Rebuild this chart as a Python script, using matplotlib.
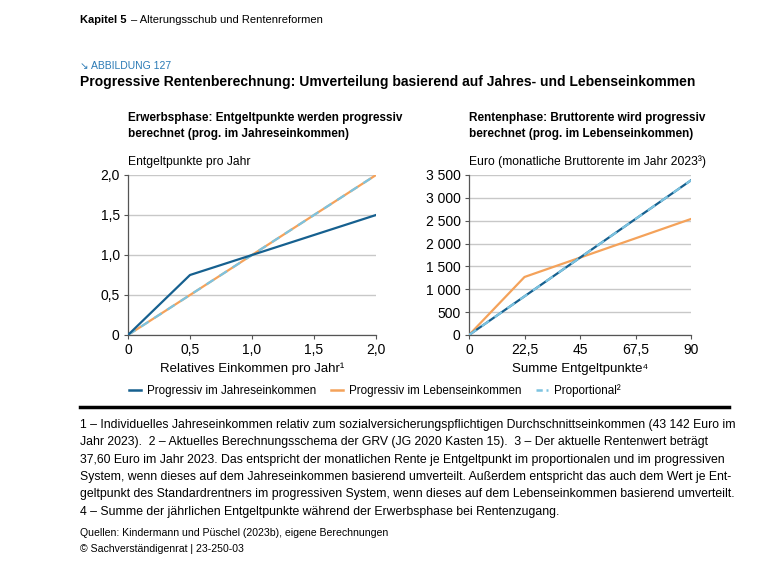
import matplotlib
matplotlib.use("Agg")
import matplotlib.pyplot as plt
from matplotlib.lines import Line2D
from matplotlib.ticker import FuncFormatter

# data
x_left = [0, 0.5, 1.0, 2.0]
jahres_left = [0, 0.75, 1.0, 1.5]
x_prop_left = [0, 2.0]
prop_left = [0, 2.0]

x_right = [0, 22.5, 45, 90]
lebens_right = [0, 1269, 1692, 2538]
x_prop_right = [0, 90]
prop_right = [0, 3384]

left_xticks = [0, 0.5, 1.0, 1.5, 2.0]
left_yticks = [0, 0.5, 1.0, 1.5, 2.0]
right_xticks = [0, 22.5, 45, 67.5, 90]
right_yticks = [0, 500, 1000, 1500, 2000, 2500, 3000, 3500]

DARK = "#16608f"
ORANGE = "#f4a25a"
LIGHT = "#7cc3e0"
GRID = "#c8c8c8"
SANS = ["Liberation Sans", "DejaVu Sans"]

W, H = 766, 567
fig = plt.figure(figsize=(W / 100, H / 100), dpi=100)


def fy(y):
    return 1 - y / H


def fx(x):
    return x / W


def style_axes(ax):
    for s in ["top", "right"]:
        ax.spines[s].set_visible(False)
    for s in ["left", "bottom"]:
        ax.spines[s].set_color("#555555")
        ax.spines[s].set_linewidth(0.9)
    ax.tick_params(direction="out", length=3, width=0.8, color="#555555",
                   labelsize=10, pad=3)
    ax.grid(axis="y", color=GRID, linewidth=1.0)
    ax.set_axisbelow(True)
    for lab in ax.get_xticklabels() + ax.get_yticklabels():
        lab.set_family(SANS)


# left panel
ax1 = fig.add_axes([fx(128), fy(335), fx(376) - fx(128), fy(175) - fy(335)])
ax1.plot(x_prop_left, prop_left, color=ORANGE, lw=1.6, zorder=3)
ax1.plot(x_prop_left, prop_left, color=LIGHT, lw=1.6, ls=(0, (4, 3)), zorder=4)
ax1.plot(x_left, jahres_left, color=DARK, lw=1.6, zorder=5)
ax1.set_xlim(0, 2.0)
ax1.set_ylim(0, 2.0)
ax1.set_xticks(left_xticks)
ax1.set_yticks(left_yticks)
fmt_left = FuncFormatter(lambda v, p: "0" if v == 0 else f"{v:.1f}".replace(".", ","))
ax1.xaxis.set_major_formatter(fmt_left)
ax1.yaxis.set_major_formatter(fmt_left)
style_axes(ax1)
ax1.set_xlabel("Relatives Einkommen pro Jahr\u00b9", fontsize=9.5, family=SANS, labelpad=4)

# right panel
ax2 = fig.add_axes([fx(469), fy(335), fx(691) - fx(469), fy(175) - fy(335)])
ax2.plot(x_right, lebens_right, color=ORANGE, lw=1.6, zorder=3)
ax2.plot(x_prop_right, prop_right, color=DARK, lw=1.6, zorder=4)
ax2.plot(x_prop_right, prop_right, color=LIGHT, lw=1.6, ls=(0, (4, 3)), zorder=5)
ax2.set_xlim(0, 90)
ax2.set_ylim(0, 3500)
ax2.set_xticks(right_xticks)
ax2.set_yticks(right_yticks)
ax2.xaxis.set_major_formatter(FuncFormatter(lambda v, p: f"{v:g}".replace(".", ",")))
ax2.yaxis.set_major_formatter(FuncFormatter(lambda v, p: f"{int(v):,}".replace(",", " ")))
style_axes(ax2)
ax2.set_xlabel("Summe Entgeltpunkte\u2074", fontsize=9.5, family=SANS, labelpad=4)

# header texts
fig.text(fx(80), fy(20), "Kapitel 5", fontsize=8, fontweight="bold", family=SANS, va="center")
fig.text(fx(80) + 0.066, fy(20), "– Alterungsschub und Rentenreformen", fontsize=8,
         family=SANS, va="center")
fig.text(fx(80), fy(66), "\u2198 ABBILDUNG 127", fontsize=7.5, color="#2a7ab5",
         family=SANS, va="center")
fig.text(fx(80), fy(82), "Progressive Rentenberechnung: Umverteilung basierend auf Jahres- und Lebenseinkommen",
         fontsize=10, fontweight="bold", family=SANS, va="center")

fig.text(fx(128), fy(126), "Erwerbsphase: Entgeltpunkte werden progressiv\nberechnet (prog. im Jahreseinkommen)",
         fontsize=8.5, fontweight="bold", family=SANS, va="center", linespacing=1.4)
fig.text(fx(469), fy(126), "Rentenphase: Bruttorente wird progressiv\nberechnet (prog. im Lebenseinkommen)",
         fontsize=8.5, fontweight="bold", family=SANS, va="center", linespacing=1.4)
fig.text(fx(128), fy(162), "Entgeltpunkte pro Jahr", fontsize=8.7, family=SANS, va="center")
fig.text(fx(469), fy(162), "Euro (monatliche Bruttorente im Jahr 2023\u00b3)", fontsize=8.7,
         family=SANS, va="center")

# legend
handles = [
    Line2D([], [], color=DARK, lw=1.8),
    Line2D([], [], color=ORANGE, lw=1.8),
    Line2D([], [], color=LIGHT, lw=1.8, ls=(0, (2.5, 1.5))),
]
labels = ["Progressiv im Jahreseinkommen", "Progressiv im Lebenseinkommen", "Proportional\u00b2"]
fig.legend(handles, labels, loc="center", bbox_to_anchor=(fx(375), fy(391)), ncol=3,
           frameon=False, handlelength=1.0, handletextpad=0.5, columnspacing=1.3,
           prop={"family": SANS, "size": 8.4})

# separator
fig.add_artist(Line2D([fx(80), fx(729)], [fy(407), fy(407)], color="black", lw=2.5))

notes = [
    "1 – Individuelles Jahreseinkommen relativ zum sozialversicherungspflichtigen Durchschnittseinkommen (43 142 Euro im",
    "Jahr 2023).  2 – Aktuelles Berechnungsschema der GRV (JG 2020 Kasten 15).  3 – Der aktuelle Rentenwert beträgt",
    "37,60 Euro im Jahr 2023. Das entspricht der monatlichen Rente je Entgeltpunkt im proportionalen und im progressiven",
    "System, wenn dieses auf dem Jahreseinkommen basierend umverteilt. Außerdem entspricht das auch dem Wert je Ent-",
    "geltpunkt des Standardrentners im progressiven System, wenn dieses auf dem Lebenseinkommen basierend umverteilt.",
    "4 – Summe der jährlichen Entgeltpunkte während der Erwerbsphase bei Rentenzugang.",
]
for i, line in enumerate(notes):
    fig.text(fx(80), fy(425 + i * 17.3), line, fontsize=8.8, family=SANS, va="center")

fig.text(fx(80), fy(533), "Quellen: Kindermann und Püschel (2023b), eigene Berechnungen", fontsize=7.6,
         family=SANS, va="center")
fig.text(fx(80), fy(549), "© Sachverständigenrat | 23-250-03", fontsize=7.6, family=SANS, va="center")

fig.savefig("out.png", dpi=100)
